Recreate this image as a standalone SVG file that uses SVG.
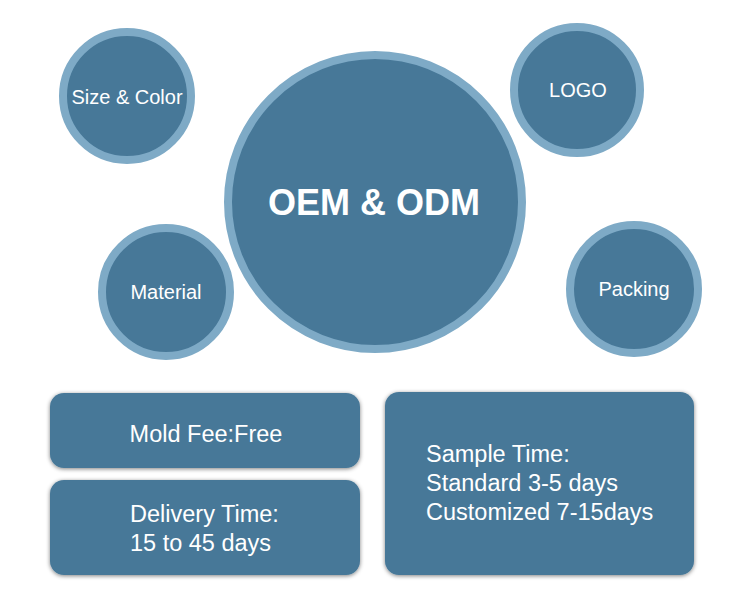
<svg xmlns="http://www.w3.org/2000/svg" width="750" height="616" viewBox="0 0 750 616">
<style>
.ring{fill:#477898;stroke:#7eaac6;stroke-width:8}
.box{fill:#477898;filter:url(#sh)}
text{font-family:"Liberation Sans",Arial,sans-serif;fill:#ffffff}
.c{text-anchor:middle}
.s{font-size:20px}
.b{font-size:23.5px}
</style>
<defs>
<filter id="sh" x="-10%" y="-10%" width="120%" height="125%">
<feGaussianBlur in="SourceAlpha" stdDeviation="2"/>
<feOffset dx="0" dy="1" result="o"/>
<feComponentTransfer><feFuncA type="linear" slope="0.5"/></feComponentTransfer>
<feMerge><feMergeNode/><feMergeNode in="SourceGraphic"/></feMerge>
</filter>
</defs>
<rect width="750" height="616" fill="#ffffff"/>
<g id="center"><circle class="ring" cx="375" cy="202" r="147"/><text class="c" x="374" y="215" style="font-size:36px;font-weight:bold">OEM &amp; ODM</text></g>
<g id="size"><circle class="ring" cx="127" cy="96" r="64"/><text class="c s" x="127" y="104">Size &amp; Color</text></g>
<g id="logo"><circle class="ring" cx="577" cy="90" r="63"/><text class="c s" x="578" y="97">LOGO</text></g>
<g id="material"><circle class="ring" cx="166" cy="292" r="64"/><text class="c s" x="166" y="299">Material</text></g>
<g id="packing"><circle class="ring" cx="634" cy="289" r="64"/><text class="c s" x="634" y="296">Packing</text></g>
<g id="mold"><rect class="box" x="50" y="393" width="310" height="75" rx="14"/><text class="c b" x="206" y="442">Mold Fee:Free</text></g>
<g id="delivery"><rect class="box" x="50" y="480" width="310" height="95" rx="14"/><text class="b" x="130" y="522">Delivery Time:</text><text class="b" x="130" y="551">15 to 45 days</text></g>
<g id="sample"><rect class="box" x="385" y="392" width="309" height="183" rx="14"/><text class="b" x="426" y="462">Sample Time:</text><text class="b" x="426" y="491">Standard 3-5 days</text><text class="b" x="426" y="520">Customized 7-15days</text></g>
<g id="connectors"></g>
</svg>
